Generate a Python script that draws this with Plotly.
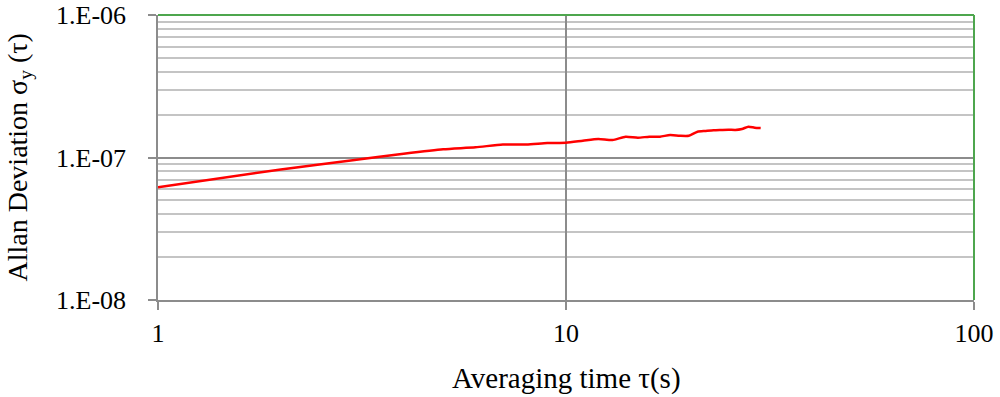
import plotly.graph_objects as go

tau = list(range(1, 31))
adev = [6.18e-8, 8.25e-8, 9.56e-8, 1.062e-7, 1.142e-7, 1.179e-7, 1.234e-7, 1.232e-7,
        1.264e-7, 1.270e-7, 1.312e-7, 1.349e-7, 1.327e-7, 1.400e-7, 1.377e-7, 1.400e-7,
        1.400e-7, 1.439e-7, 1.422e-7, 1.422e-7, 1.518e-7, 1.535e-7, 1.552e-7, 1.560e-7,
        1.567e-7, 1.560e-7, 1.585e-7, 1.645e-7, 1.619e-7, 1.611e-7]

y_tickvals = [1e-8, 1e-7, 1e-6]
y_ticktext = ["1.E-08", "1.E-07", "1.E-06"]
y_minor = [k * 10.0 ** e for e in (-8, -7) for k in range(2, 10)]
x_tickvals = [1, 10, 100]
x_ticktext = ["1", "10", "100"]

FONT = "Liberation Serif"
fig = go.Figure()
fig.add_trace(go.Scatter(x=tau, y=adev, mode="lines",
                         line=dict(color="#ff0000", width=2.5, shape="spline", smoothing=0.6),
                         showlegend=False, hoverinfo="skip"))

fig.update_layout(
    width=1000, height=397,
    margin=dict(l=158, r=26, t=15, b=97),
    paper_bgcolor="white", plot_bgcolor="white",
    font=dict(family=FONT, size=26, color="black"),
    xaxis=dict(type="log", range=[0, 2], tickvals=x_tickvals, ticktext=x_ticktext,
               automargin=False, ticklabeloverflow="allow",
               showgrid=True, gridcolor="#8c8c8c", gridwidth=1.5,
               showline=True, linecolor="#8c8c8c", linewidth=1.5,
               ticks="outside", ticklen=8, tickcolor="#8c8c8c", tickwidth=1.5,
               tickfont=dict(family=FONT, size=26), ticklabelstandoff=1,
               zeroline=False),
    yaxis=dict(type="log", range=[-8, -6], tickvals=y_tickvals, ticktext=y_ticktext,
               automargin=False, ticklabeloverflow="allow",
               showgrid=True, gridcolor="#8c8c8c", gridwidth=1.5,
               showline=True, linecolor="#8c8c8c", linewidth=1.5,
               ticks="outside", ticklen=8, tickcolor="#8c8c8c", tickwidth=1.5,
               tickfont=dict(family=FONT, size=26), ticklabelstandoff=17,
               zeroline=False,
               minor=dict(tickvals=y_minor, showgrid=True, gridcolor="#c4c4c4", gridwidth=1.5,
                          ticks="")),
    annotations=[
        dict(text="Averaging time τ(s)", xref="paper", yref="paper", x=0.5, y=0,
             yshift=-78, xanchor="center", yanchor="middle", showarrow=False,
             font=dict(family=FONT, size=29)),
        dict(text="Allan Deviation σ<sub>y</sub> (τ)", xref="paper", yref="paper", x=0, y=0.5,
             xshift=-139, xanchor="center", yanchor="middle", textangle=-90, showarrow=False,
             font=dict(family=FONT, size=28)),
    ],
    shapes=[
        dict(type="line", xref="paper", yref="paper", x0=0, x1=1, y0=1, y1=1,
             line=dict(color="#4ea64e", width=2)),
        dict(type="line", xref="paper", yref="paper", x0=1, x1=1, y0=0, y1=1,
             line=dict(color="#4ea64e", width=2)),
    ],
)

fig.write_html("out.html", config={"displayModeBar": False},
               post_script="document.body.style.margin='0';")
